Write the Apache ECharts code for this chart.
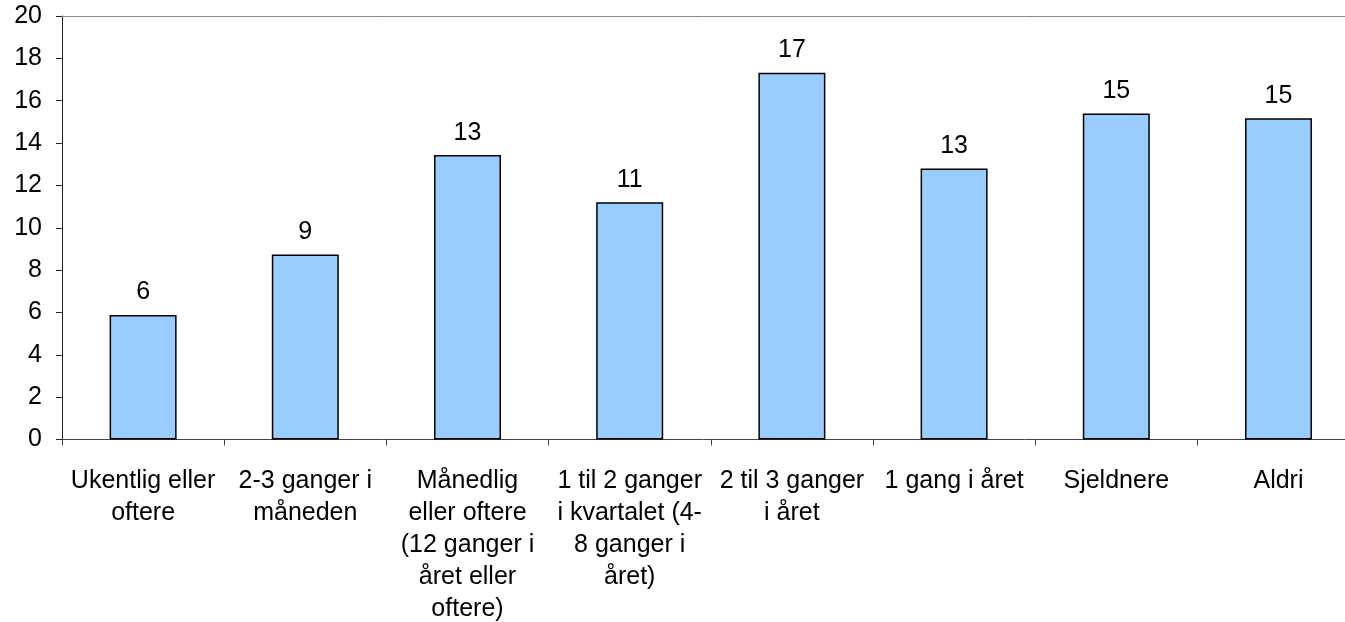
<!DOCTYPE html>
<html>
<head>
<meta charset="utf-8">
<script src="https://cdn.jsdelivr.net/npm/echarts@6/dist/echarts.min.js"></script>
<style>
html,body{margin:0;padding:0;background:#fff;overflow:hidden;}
#chart{width:1345px;height:622px;}
</style>
</head>
<body>
<div id="chart"></div>
<script>
const categories = [
  "Ukentlig eller oftere",
  "2-3 ganger i måneden",
  "Månedlig eller oftere (12 ganger i året eller oftere)",
  "1 til 2 ganger i kvartalet (4-8 ganger i året)",
  "2 til 3 ganger i året",
  "1 gang i året",
  "Sjeldnere",
  "Aldri"
];
const categoryLabels = [
  "Ukentlig eller\noftere",
  "2-3 ganger i\nmåneden",
  "Månedlig\neller oftere\n(12 ganger i\nåret eller\noftere)",
  "1 til 2 ganger\ni kvartalet (4-\n8 ganger i\nåret)",
  "2 til 3 ganger\ni året",
  "1 gang i året",
  "Sjeldnere",
  "Aldri"
];
const values = [5.88, 8.74, 13.43, 11.2, 17.32, 12.8, 15.4, 15.17];
const yTicks = [0, 2, 4, 6, 8, 10, 12, 14, 16, 18, 20];

const font = "'Liberation Sans', Arial, sans-serif";
const idx = categories.map(function (c, i) { return i; });
const boundaries = idx.map(function (i) { return i - 0.5; });
const barData = values.map(function (v, i) { return [i, v]; });
// the plot area in the original runs past the right edge of the picture
const xMin = -0.5, xMax = 7.41;

const chart = echarts.init(document.getElementById('chart'), null, {renderer: 'canvas'});
chart.setOption({
  animation: false,
  backgroundColor: '#ffffff',
  grid: {left: 62, right: 0, top: 16, bottom: 181, containLabel: false},
  xAxis: [{
    type: 'value',
    min: xMin,
    max: xMax,
    axisLine: {show: true, onZero: false, lineStyle: {color: '#444', width: 1}},
    axisTick: {show: true, customValues: boundaries, length: 6, inside: false, lineStyle: {color: '#444'}},
    axisLabel: {
      customValues: idx,
      margin: 26,
      color: '#000',
      fontFamily: font,
      fontSize: 25,
      lineHeight: 32,
      padding: [0, 0, -14, 0],
      showMinLabel: true,
      showMaxLabel: true,
      formatter: function (v) { return categoryLabels[Math.round(v)] || ''; }
    },
    splitLine: {show: false}
  }, {
    type: 'value',
    position: 'top',
    min: xMin,
    max: xMax,
    axisLine: {show: true, onZero: false, lineStyle: {color: '#888', width: 1}},
    axisTick: {show: false},
    axisLabel: {show: false},
    splitLine: {show: false}
  }],
  yAxis: {
    type: 'value',
    min: yTicks[0],
    max: yTicks[yTicks.length - 1],
    interval: 2,
    axisLine: {show: true, onZero: false, lineStyle: {color: '#222', width: 1}},
    axisTick: {show: true, length: 6, lineStyle: {color: '#222'}},
    axisLabel: {margin: 20, color: '#000', fontFamily: font, fontSize: 25},
    splitLine: {show: false}
  },
  series: [{
    type: 'bar',
    xAxisIndex: 0,
    data: barData,
    barWidth: 67,
    itemStyle: {color: '#99CCFF', borderColor: '#000', borderWidth: 1.5},
    label: {
      show: true,
      position: 'top',
      distance: 10,
      color: '#000',
      fontFamily: font,
      fontSize: 25,
      formatter: function (p) { return Math.round(p.value[1]); }
    }
  }]
});
</script>
</body>
</html>
